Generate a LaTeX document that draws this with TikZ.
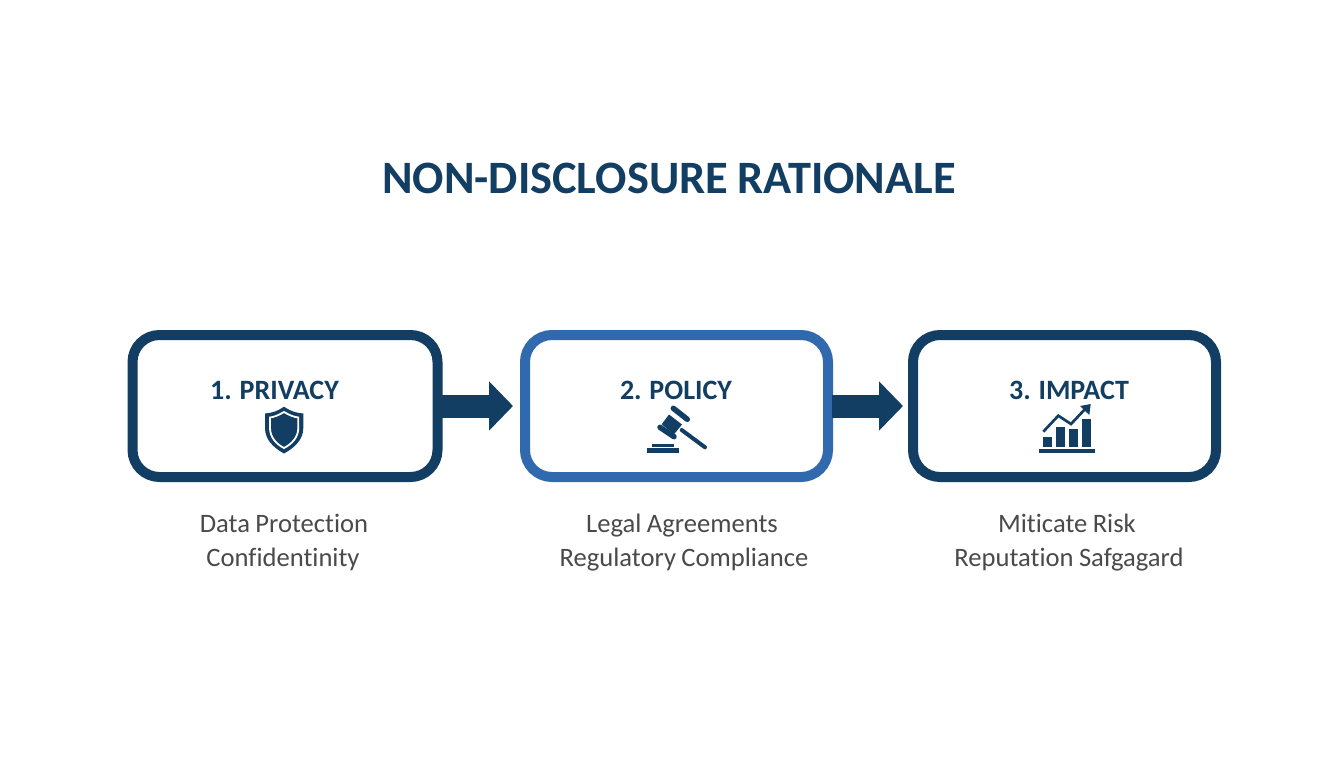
\documentclass[tikz,border=0pt]{standalone}
\usepackage{fontspec}
\setmainfont[Ligatures=NoCommon,WordSpace=0.9]{Carlito}
\usetikzlibrary{arrows.meta}
\definecolor{navy}{HTML}{133E63}
\definecolor{midblue}{HTML}{3069AE}
\definecolor{bodygrey}{HTML}{4A4A4A}
\tikzset{
  x=1pt,y=-1pt,
  stagebox/.style={draw=#1,line width=10pt,rounded corners=27pt,minimum width=305pt,minimum height=142pt,fill=white},
  flow/.style={draw=navy,line width=23pt,-{Triangle[length=24pt,width=48pt,fill=navy]},shorten <=-1pt},
  headtext/.style={font=\fontsize{28}{28}\selectfont\bfseries,text=navy,anchor=base,inner sep=0pt},
  bodytext/.style={font=\fontsize{26.6}{26.6}\selectfont,text=bodygrey,anchor=base,inner sep=0pt},
}
\begin{document}
\begin{tikzpicture}
\useasboundingbox (0,0) rectangle (1344,768);
\fill[white] (0,0) rectangle (1344,768);
\node[font=\fontsize{46.4}{46.4}\selectfont\bfseries,text=navy,anchor=base,inner sep=0pt] (title) at (669,193.5) {NON-DISCLOSURE RATIONALE};
\node[stagebox=navy] (b1) at (285,406) {};
\node[stagebox=midblue,minimum width=303pt] (b2) at (676.5,406) {};
\node[stagebox=navy,minimum width=303pt] (b3) at (1064.5,406) {};
\draw[flow,shorten >=7pt] (b1.east) -- (b2.west);
\draw[flow,shorten >=5pt] (b2.east) -- (b3.west);
\node[headtext] (h1) at (274.5,399) {1. PRIVACY};
\node[headtext] (h2) at (676,399) {2. POLICY};
\node[headtext] (h3) at (1069,399) {3. IMPACT};
% shield
\fill[navy] (284,406.7) .. controls (276,412) and (271,413) .. (265,413.5) -- (265,428) .. controls (265,440) and (274,448) .. (284,453.5) .. controls (294,448) and (303.3,440) .. (303.3,428) -- (303.3,413.5) .. controls (297,413) and (292,412) .. (284,406.7) -- cycle;
\draw[white,line width=1.8pt] (284,412) .. controls (278,415.5) and (274,417) .. (270,417.5) -- (270,428) .. controls (270,437) and (276,444) .. (284,448) .. controls (292,444) and (298.3,437) .. (298.3,428) -- (298.3,417.5) .. controls (294,417) and (290,415.5) .. (284,412) -- cycle;
% gavel
\draw[navy,line width=4pt,line cap=round] (681.7,430) -- (705,447.3);
\draw[navy,line width=5.5pt,line cap=round] (673.3,408.3) -- (687.3,419.3);
\draw[navy,line width=5.5pt,line cap=round] (660,427.3) -- (674,436.7);
\fill[navy] (669,414.5) -- (682,424.5) -- (674,434.3) -- (661.7,424.3) -- cycle;
\fill[navy] (651.7,443.5) rectangle (674,446.7);
\fill[navy] (647,448.3) rectangle (679.3,452.7);
% chart
\fill[navy] (1039.3,449.3) rectangle (1094.7,453.3);
\fill[navy] (1042.7,436.7) rectangle (1051.7,447.3);
\fill[navy] (1055.7,426.7) rectangle (1065,447.3);
\fill[navy] (1069,429.3) rectangle (1077.7,447.3);
\fill[navy] (1082,418.7) rectangle (1090.7,447.3);
\draw[navy,line width=2.7pt] (1043.3,431.7) -- (1058.3,415.7) -- (1071,424) -- (1087.3,406.7);
\fill[navy] (1080,406) -- (1090.7,404) -- (1089.3,415) -- cycle;
% captions
\node[bodytext] (c1a) at (284,532) {Data Protection};
\node[bodytext] (c1b) at (283,566) {Confidentinity};
\node[bodytext] (c2a) at (682,532) {Legal Agreements};
\node[bodytext] (c2b) at (684,566) {Regulatory Compliance};
\node[bodytext] (c3a) at (1067,532) {Miticate Risk};
\node[bodytext] (c3b) at (1069,566) {Reputation Safgagard};
\end{tikzpicture}
\end{document}
